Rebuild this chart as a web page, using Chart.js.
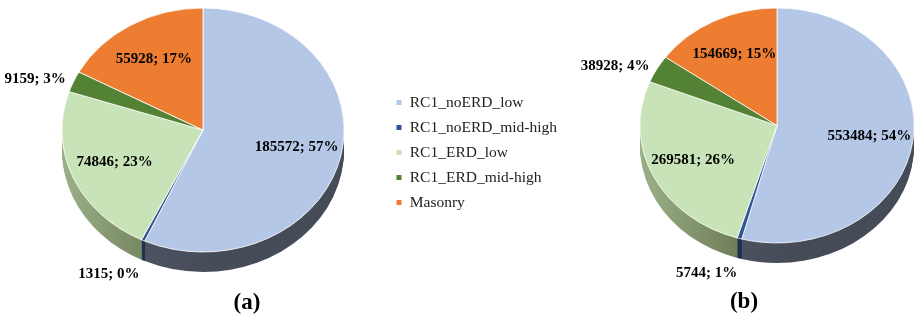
<!DOCTYPE html>
<html><head><meta charset="utf-8">
<script src="https://cdn.jsdelivr.net/npm/chart.js@4.4.1/dist/chart.umd.min.js"></script>
<style>
html,body{margin:0;padding:0;background:#fff;}
body{width:917px;height:324px;overflow:hidden;position:relative;}
#wa{position:absolute;left:0;top:0;width:567px;height:324px;}
#wb{position:absolute;left:567px;top:0;width:350px;height:324px;}
</style></head><body>
<div id="wa"><canvas id="ca"></canvas></div>
<div id="wb"><canvas id="cb"></canvas></div>
<script>
// ---- data ----
const categories = ['RC1_noERD_low', 'RC1_noERD_mid-high', 'RC1_ERD_low', 'RC1_ERD_mid-high', 'Masonry'];
const valuesA = [185572, 1315, 74846, 9159, 55928];
const valuesB = [553484, 5744, 269581, 38928, 154669];
const panelTitles = ['(a)', '(b)'];

// ---- styles ----
const faceColors = ['#b4c7e7', '#2f5597', '#c9e3b8', '#548235', '#ed7d31'];
const sideLight = ['#565c6b', '#25355e', '#9bb088', '#3f6127', '#b25c22'];
const sideDark  = ['#464b58', '#1c2a4c', '#55633f', '#3a5724', '#9c4f1c'];

const pie3d = {
  id: 'pie3d',
  beforeDatasetsDraw(chart, args, o) {
    const arcs = chart.getDatasetMeta(0).data;
    if (!arcs.length) return;
    const R = arcs[0].outerRadius, x0 = arcs[0].x, y0 = arcs[0].y;
    const sx = o.rx / R, sy = o.ry / R;
    const ctx = chart.ctx;
    for (let d = o.depth; d >= 1; d--) {
      ctx.save();
      ctx.translate(o.cx, o.cy + d);
      ctx.scale(sx, sy);
      arcs.forEach((a, i) => {
        const g = ctx.createLinearGradient(-R, 0, 0.1 * R, 0);
        g.addColorStop(0, sideLight[i]);
        g.addColorStop(1, sideDark[i]);
        ctx.beginPath();
        ctx.moveTo(0, 0);
        ctx.arc(0, 0, R, a.startAngle, a.endAngle);
        ctx.closePath();
        ctx.fillStyle = g;
        ctx.fill();
      });
      ctx.restore();
    }
    ctx.save();
    ctx.translate(o.cx, o.cy);
    ctx.scale(sx, sy);
    ctx.translate(-x0, -y0);
  },
  afterDatasetsDraw(chart) {
    chart.ctx.restore();
  },
  afterDraw(chart, args, o) {
    const arcs = chart.getDatasetMeta(0).data;
    const vals = chart.data.datasets[0].data;
    const total = vals.reduce((s, v) => s + v, 0);
    const ctx = chart.ctx;
    ctx.save();
    ctx.fillStyle = '#000';
    ctx.font = 'bold 15px "Liberation Serif", "Times New Roman", serif';
    arcs.forEach((a, i) => {
      const frac = vals[i] / total;
      const mid = (a.startAngle + a.endAngle) / 2;
      const ux = Math.cos(mid), uy = Math.sin(mid);
      const text = vals[i] + '; ' + Math.round(frac * 100) + '%';
      let x, y;
      if (frac >= 0.05) {
        ctx.textAlign = 'center';
        ctx.textBaseline = 'middle';
        x = o.cx + ux * o.rx * 0.68;
        y = o.cy + uy * o.ry * 0.68;
      } else {
        x = o.cx + ux * o.rx * 1.06;
        y = o.cy + uy * o.ry * 1.06;
        ctx.textAlign = ux < 0 ? 'right' : 'left';
        if (uy > 0) { y += o.depth; ctx.textBaseline = 'top'; }
        else ctx.textBaseline = 'middle';
      }
      ctx.fillText(text, x, y);
    });
    ctx.font = 'bold 23px "Liberation Serif", "Times New Roman", serif';
    ctx.textAlign = 'center';
    ctx.textBaseline = 'middle';
    ctx.fillText(o.title, o.tx, o.ty);
    ctx.restore();
  }
};

function makeChart(id, values, showLegend, geo) {
  return new Chart(document.getElementById(id), {
    type: 'pie',
    data: {
      labels: categories,
      datasets: [{
        data: values,
        backgroundColor: faceColors,
        borderColor: '#ffffff',
        borderWidth: 1,
        clip: false
      }]
    },
    options: {
      responsive: true,
      maintainAspectRatio: false,
      animation: false,
      events: [],
      layout: { padding: { bottom: showLegend ? 19 : 0 } },
      plugins: {
        tooltip: { enabled: false },
        legend: {
          display: showLegend,
          position: 'right',
          align: 'center',
          labels: {
            usePointStyle: true,
            pointStyle: 'rect',
            boxWidth: 6,
            boxHeight: 6,
            pointStyleWidth: 6,
            padding: 9.5,
            color: '#222',
            font: { family: '"Liberation Serif", "Times New Roman", serif', size: 15.5 }
          }
        },
        pie3d: geo
      }
    },
    plugins: [pie3d]
  });
}

makeChart('ca', valuesA, true, { cx: 203, cy: 130, rx: 141, ry: 122, depth: 20, title: panelTitles[0], tx: 247, ty: 303 });
makeChart('cb', valuesB, false, { cx: 210, cy: 125.5, rx: 137, ry: 117.5, depth: 20, title: panelTitles[1], tx: 177, ty: 302 });
</script>
</body></html>
